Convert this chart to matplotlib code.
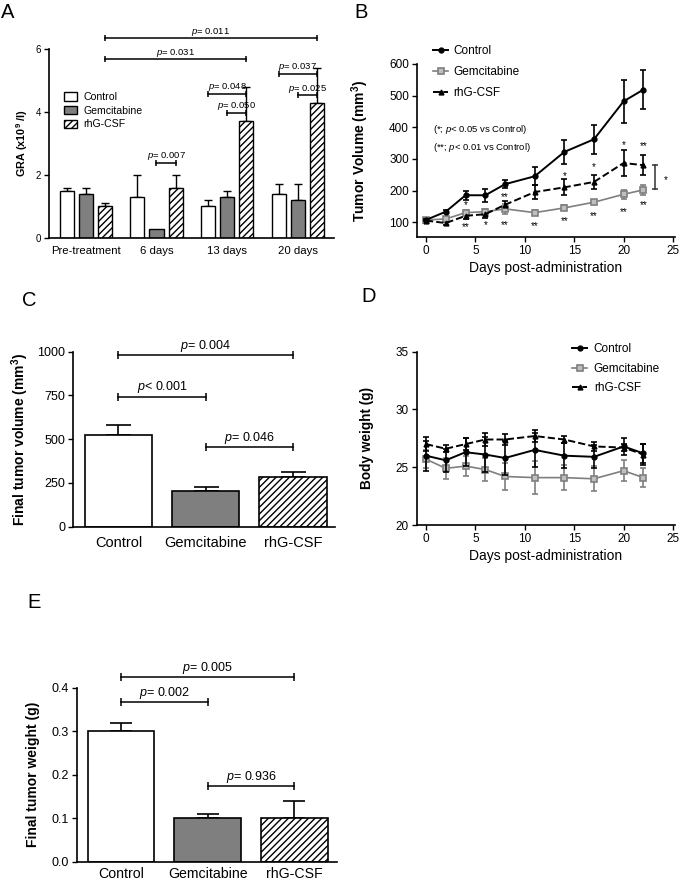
import matplotlib
matplotlib.use('Agg')
import matplotlib.pyplot as plt
import numpy as np
from matplotlib.patches import Patch
from matplotlib.lines import Line2D

plt.rcParams['font.family'] = ['Liberation Sans', 'DejaVu Sans']
plt.rcParams['mathtext.fontset'] = 'custom'
plt.rcParams['mathtext.rm'] = 'Liberation Sans'
plt.rcParams['mathtext.it'] = 'Liberation Sans:italic'
plt.rcParams['mathtext.bf'] = 'Liberation Sans:bold'
plt.rcParams['hatch.linewidth'] = 1.0

# ---------------- data ----------------
groups = ['Control', 'Gemcitabine', 'rhG-CSF']

# Panel A: granulocytes
a_times = ['Pre-treatment', '6 days', '13 days', '20 days']
a_control = [1.5, 1.3, 1.0, 1.4]
a_control_err = [0.1, 0.7, 0.2, 0.3]
a_gem = [1.4, 0.3, 1.3, 1.2]
a_gem_err = [0.2, 0.0, 0.2, 0.5]
a_rhg = [1.0, 1.6, 3.7, 4.3]
a_rhg_err = [0.1, 0.4, 1.1, 1.1]
# brackets: (time idx, group idx) -> (time idx, group idx), level, p
a_brackets = [((0, 2), (3, 2), 6.34, '0.011'),
              ((0, 2), (2, 2), 5.67, '0.031'),
              ((1, 1), (1, 2), 2.38, '0.007'),
              ((2, 0), (2, 2), 4.57, '0.048'),
              ((2, 1), (2, 2), 3.97, '0.050'),
              ((3, 0), (3, 2), 5.21, '0.037'),
              ((3, 1), (3, 2), 4.53, '0.025')]

# Panel B: tumor volume
days = [0, 2, 4, 6, 8, 11, 14, 17, 20, 22]
b_control = [107, 133, 185, 185, 220, 245, 322, 362, 482, 519]
b_control_err = [4, 5, 15, 20, 13, 28, 38, 45, 67, 62]
b_gem = [107, 110, 130, 133, 142, 130, 145, 163, 188, 202]
b_gem_err = [3, 5, 8, 10, 15, 7, 8, 6, 14, 16]
b_rhg = [105, 97, 120, 125, 155, 195, 210, 227, 287, 280]
b_rhg_err = [3, 5, 10, 12, 12, 22, 25, 22, 40, 32]
b_stars = [(4, 166, '*'), (4, 95, '**'), (6, 102, '*'), (8, 190, '**'),
           (8, 102, '**'), (11, 99, '**'), (14, 258, '*'), (14, 113, '**'),
           (17, 285, '*'), (17, 131, '**'), (20, 356, '*'), (20, 142, '**'),
           (22, 353, '**'), (22, 166, '**')]
b_side = (23.2, 205, 280, '*')

# Panel C: final tumor volume
c_mean = [522, 204, 284]
c_err = [61, 21, 30]
c_brackets = [(0, 2, 979, r'$\it{p}$= 0.004'),
              (0, 1, 743, r'$\it{p}$< 0.001'),
              (1, 2, 455, r'$\it{p}$= 0.046')]

# Panel D: body weight
d_control = [26.0, 25.6, 26.3, 26.1, 25.8, 26.5, 26.0, 25.9, 26.8, 26.2]
d_control_err = [1.3, 1.0, 1.2, 1.5, 1.5, 1.5, 1.1, 1.0, 0.7, 0.8]
d_gem = [25.7, 24.9, 25.1, 24.8, 24.2, 24.1, 24.1, 24.0, 24.7, 24.1]
d_gem_err = [0.8, 0.9, 0.9, 1.0, 1.2, 1.4, 1.1, 1.1, 0.9, 0.8]
d_rhg = [27.0, 26.6, 27.0, 27.4, 27.4, 27.7, 27.4, 26.8, 26.7, 26.1]
d_rhg_err = [0.6, 0.3, 0.5, 0.6, 0.5, 0.5, 0.3, 0.4, 0.3, 0.9]

# Panel E: final tumor weight
e_mean = [0.30, 0.10, 0.10]
e_err = [0.02, 0.01, 0.04]
e_brackets = [(0, 2, 0.424, r'$\it{p}$= 0.005'),
              (0, 1, 0.366, r'$\it{p}$= 0.002'),
              (1, 2, 0.174, r'$\it{p}$= 0.936')]

# ---------------- layout ----------------
W, H = 685, 883
fig = plt.figure(figsize=(W / 100, H / 100), dpi=100)


def add_ax(l, t, r, b):
    return fig.add_axes([l / W, 1 - b / H, (r - l) / W, (b - t) / H])


def style(ax, lsize):
    for s in ['top', 'right']:
        ax.spines[s].set_visible(False)
    for s in ['left', 'bottom']:
        ax.spines[s].set_linewidth(1.2)
    ax.tick_params(direction='out', length=3.5, width=1.0, labelsize=lsize, pad=2)


def ylabel_at(ax, text, xpx, size):
    ax.set_ylabel(text, fontsize=size, fontweight='bold')
    bb = ax.get_position()
    xa = (xpx / W - bb.x0) / bb.width
    ax.yaxis.set_label_coords(xa, 0.5)
    ax.yaxis.label.set_va('center')


def bracket(ax, x1, x2, y, text, fs, ms, gap):
    ax.plot([x1, x2], [y, y], color='black', lw=1.1, clip_on=False)
    ax.plot([x1, x2], [y, y], ls='none', marker='|', ms=ms, mew=1.1,
            color='black', clip_on=False)
    ax.annotate(text, ((x1 + x2) / 2, y), xytext=(0, gap), textcoords='offset points',
                ha='center', va='bottom', fontsize=fs, annotation_clip=False)


fills = ['white', '#7f7f7f', 'white']
hatches = [None, None, '/////']

line_styles = [dict(color='black', lw=1.4, ls='-', marker='o', ms=3.5,
                    mfc='black', mec='black'),
               dict(color='#7f7f7f', lw=1.2, ls='-', marker='s', ms=5,
                    mfc='#bfbfbf', mec='#7f7f7f', mew=1.2),
               dict(color='black', lw=1.4, ls='--', marker='^', ms=3.5,
                    mfc='black', mec='black')]


def draw_lines(ax, series, errs):
    for i in range(3):
        st = line_styles[i]
        ax.errorbar(days, series[i], yerr=errs[i], capsize=2, elinewidth=1.2,
                    capthick=1.2, ecolor=st['color'], zorder=3 - (i > 0), **st)
    return [Line2D([], [], **line_styles[i]) for i in range(3)]


# ---------- Panel A ----------
axA = add_ax(49, 49, 334, 238)
style(axA, 7)
off, bw = 0.27, 0.2
a_vals = [a_control, a_gem, a_rhg]
a_errs = [a_control_err, a_gem_err, a_rhg_err]
xg = np.arange(len(a_times))
for i in range(3):
    xs = xg + (i - 1) * off
    axA.bar(xs, a_vals[i], width=bw, color=fills[i], edgecolor='black',
            hatch=hatches[i], linewidth=1.0, zorder=2, label=groups[i])
    e = np.array(a_errs[i])
    m = e > 0
    axA.errorbar(xs[m], np.array(a_vals[i])[m], yerr=[np.zeros(m.sum()), e[m]],
                 fmt='none', ecolor='black', elinewidth=1.0, capsize=3.2,
                 capthick=1.0, zorder=1)
axA.set_xlim(-0.52, 3.51)
axA.set_ylim(0, 6)
axA.set_yticks([0, 2, 4, 6])
axA.set_xticks(xg)
axA.set_xticklabels(a_times, fontsize=8.2)
axA.tick_params(axis='x', length=0, pad=6)
for (p1, p2, lvl, pv) in a_brackets:
    x1 = p1[0] + (p1[1] - 1) * off
    x2 = p2[0] + (p2[1] - 1) * off
    bracket(axA, x1, x2, lvl, r'$\it{p}$= ' + pv, 6.8, 4.5, 0.5)
ylabel_at(axA, r'GRA (x10$^{\mathbf{9}}$ /l)', 22, 7.8)
handles = [Patch(facecolor=fills[i], edgecolor='black', hatch=hatches[i], lw=1.0)
           for i in range(3)]
axA.legend(handles, groups, loc='upper left', bbox_to_anchor=(64 / W, 1 - 92 / H),
           bbox_transform=fig.transFigure, frameon=False, fontsize=7.6,
           handlelength=1.25, handleheight=0.85, labelspacing=0.35,
           handletextpad=0.55, borderpad=0, borderaxespad=0)

# ---------- Panel B ----------
axB = add_ax(416.7, 64, 675, 237)
style(axB, 8.5)
hB = draw_lines(axB, [b_control, b_gem, b_rhg], [b_control_err, b_gem_err, b_rhg_err])
for (x, y, s) in b_stars:
    axB.annotate(s, (x, y), xytext=(0, -2.5), textcoords='offset points',
                 ha='center', va='center', fontsize=7)
sx, s_lo, s_hi, s_txt = b_side
axB.plot([sx, sx], [s_lo, s_hi], color='#333333', lw=1.1)
axB.plot([sx, sx], [s_lo, s_hi], ls='none', marker='_', ms=5, mew=1.1, color='#333333')
axB.annotate(s_txt, (sx + 1.1, (s_lo + s_hi) / 2), xytext=(0, -2.5),
             textcoords='offset points', ha='center', va='center', fontsize=7)
axB.set_xlim(-0.94, 25.2)
axB.set_ylim(53, 600)
axB.set_yticks(range(100, 601, 100))
axB.set_xticks(range(0, 26, 5))
axB.set_xlabel('Days post-administration', fontsize=10, labelpad=3)
ylabel_at(axB, r'Tumor Volume (mm$^{\mathbf{3}}$)', 360, 10)
axB.text((433 - 416.7) / (675 - 416.7), 1 - (130 - 64) / (237 - 64),
         r'(*; $\it{p}$< 0.05 vs Control)', transform=axB.transAxes,
         fontsize=6.8, ha='left', va='center')
axB.text((433 - 416.7) / (675 - 416.7), 1 - (148 - 64) / (237 - 64),
         r'(**; $\it{p}$< 0.01 vs Control)', transform=axB.transAxes,
         fontsize=6.8, ha='left', va='center')
axB.legend(hB, groups, loc='upper left', bbox_to_anchor=(433 / W, 1 - 45 / H),
           bbox_transform=fig.transFigure, frameon=False, fontsize=8.5,
           handlelength=1.3, labelspacing=0.75, handletextpad=0.45,
           borderpad=0, borderaxespad=0)

# ---------- Panel C ----------
axC = add_ax(73, 351.7, 335, 526.7)
style(axC, 9)
xc = np.arange(3)
for i in range(3):
    axC.bar(xc[i], c_mean[i], width=0.77, color=fills[i], edgecolor='black',
            hatch=hatches[i], linewidth=1.2, zorder=2)
axC.errorbar(xc, c_mean, yerr=[np.zeros(3), c_err], fmt='none', ecolor='black',
             elinewidth=1.2, capsize=9, capthick=1.2, zorder=1)
axC.set_xlim(-0.52, 2.48)
axC.set_ylim(0, 1000)
axC.set_yticks([0, 250, 500, 750, 1000])
axC.set_xticks(xc)
axC.set_xticklabels(groups, fontsize=10.5)
axC.tick_params(axis='x', length=0, pad=7)
for (i1, i2, lvl, t) in c_brackets:
    bracket(axC, i1, i2, lvl, t, 9, 6, 1)
ylabel_at(axC, r'Final tumor volume (mm$^{\mathbf{3}}$)', 20, 10)

# ---------- Panel D ----------
axD = add_ax(416.7, 351.7, 675, 525)
style(axD, 8.5)
hD = draw_lines(axD, [d_control, d_gem, d_rhg], [d_control_err, d_gem_err, d_rhg_err])
axD.set_xlim(-0.94, 25.2)
axD.set_ylim(20, 35)
axD.set_yticks([20, 25, 30, 35])
axD.set_xticks(range(0, 26, 5))
axD.set_xlabel('Days post-administration', fontsize=10, labelpad=3)
ylabel_at(axD, 'Body weight (g)', 367, 9.8)
axD.legend(hD, groups, loc='upper left', bbox_to_anchor=(572 / W, 1 - 343 / H),
           bbox_transform=fig.transFigure, frameon=False, fontsize=8.5,
           handlelength=1.3, labelspacing=0.65, handletextpad=0.55,
           borderpad=0, borderaxespad=0)

# ---------- Panel E ----------
axE = add_ax(76.7, 687.7, 337, 861.7)
style(axE, 9)
for i in range(3):
    axE.bar(xc[i], e_mean[i], width=0.77, color=fills[i], edgecolor='black',
            hatch=hatches[i], linewidth=1.2, zorder=2)
axE.errorbar(xc, e_mean, yerr=[np.zeros(3), e_err], fmt='none', ecolor='black',
             elinewidth=1.2, capsize=8, capthick=1.2, zorder=1)
axE.set_xlim(-0.51, 2.49)
axE.set_ylim(0, 0.4)
axE.set_yticks([0.0, 0.1, 0.2, 0.3, 0.4])
axE.set_yticklabels(['0.0', '0.1', '0.2', '0.3', '0.4'])
axE.set_xticks(xc)
axE.set_xticklabels(groups, fontsize=10.2)
axE.tick_params(axis='x', length=0, pad=4)
for (i1, i2, lvl, t) in e_brackets:
    bracket(axE, i1, i2, lvl, t, 9, 6, 1)
ylabel_at(axE, 'Final tumor weight (g)', 33, 10)

# panel letters
for letter, (x, y) in zip('ABCDE', [(1, 13), (354, 13), (22, 300), (361, 297), (27, 603)]):
    fig.text(x / W, 1 - y / H, letter, fontsize=14.5, ha='left', va='center')

fig.savefig('out.png', dpi=100)
